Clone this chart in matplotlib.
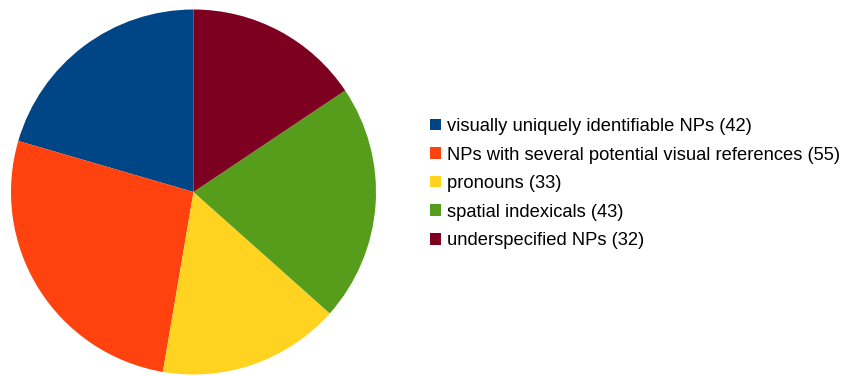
import matplotlib
matplotlib.use("Agg")
import matplotlib.pyplot as plt
from matplotlib.patches import Patch

# chart values
categories = ["visually uniquely identifiable NPs", "NPs with several potential visual references",
              "pronouns", "spatial indexicals", "underspecified NPs"]
counts = [42, 55, 33, 43, 32]
colors = ["#004586", "#ff420e", "#ffd320", "#579d1c", "#7e0021"]

plt.rcParams['font.family'] = ['Liberation Sans', 'DejaVu Sans']

W, H = 842, 376
fig = plt.figure(figsize=(W / 100, H / 100), dpi=100)

# pie centre and radius in pixels
cx, cy, r = 193.5, 192, 182.5
ax = fig.add_axes([(cx - r) / W, (H - cy - r) / H, 2 * r / W, 2 * r / H])
ax.pie(counts, colors=colors, startangle=90, counterclock=True,
       wedgeprops=dict(linewidth=0))
ax.set_xlim(-1, 1)
ax.set_ylim(-1, 1)
ax.set_aspect('equal')
ax.axis('off')

labels = ["%s (%d)" % (c, n) for c, n in zip(categories, counts)]
handles = [Patch(facecolor=c, edgecolor='none') for c in colors]
fig.legend(handles, labels, loc='upper left', bbox_to_anchor=(430 / W, 1 - 118 / H),
           frameon=False, fontsize=13.2, handlelength=0.6, handleheight=0.6,
           handletextpad=0.33, labelspacing=0.63, borderpad=0, borderaxespad=0)

fig.savefig("out.png", dpi=100)
